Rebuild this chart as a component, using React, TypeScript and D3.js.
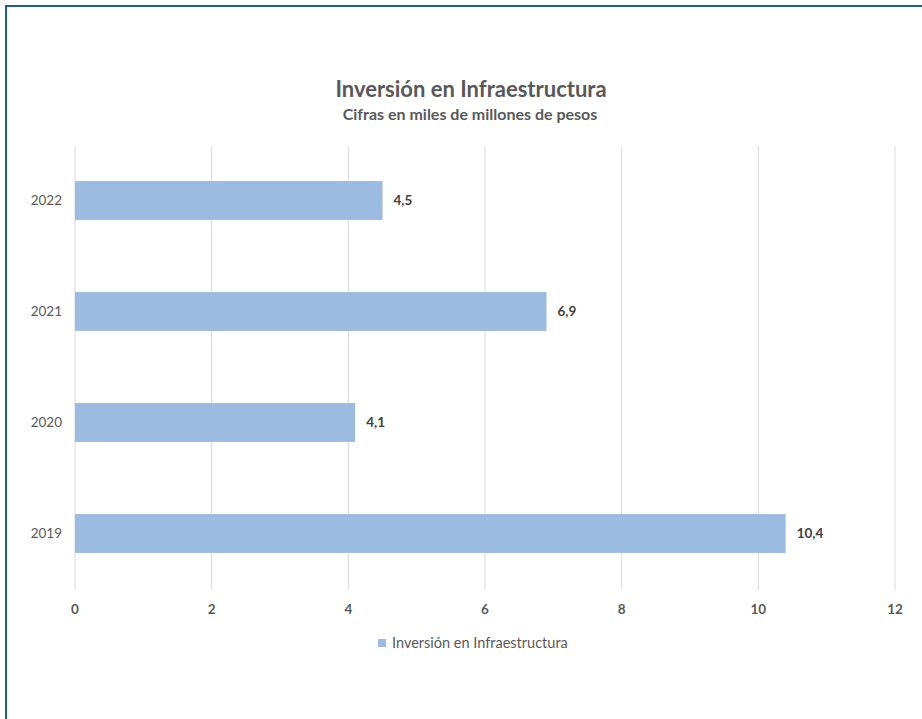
import React from "react";
import * as d3 from "d3";

const categories = ["2022", "2021", "2020", "2019"];
const values = [4.5, 6.9, 4.1, 10.4];
const xTicks = [0, 2, 4, 6, 8, 10, 12];
const seriesName = "Inversión en Infraestructura";
const title = "Inversión en Infraestructura";
const subtitle = "Cifras en miles de millones de pesos";

export default function App() {
  const W = 922, H = 719;
  const x = d3.scaleLinear().domain([0, 12]).range([75, 895]);
  const y = d3.scaleBand().domain(categories).range([145, 589]).paddingInner(0.65).paddingOuter(0.325);
  const fmt = (v: number) => v.toFixed(1).replace(".", ",");
  const font = "Lato, 'Open Sans', sans-serif";
  return (
    <svg width={W} height={H} style={{ position: "absolute", left: 0, top: 0 }} fontFamily={font}>
      <rect x={0} y={0} width={W} height={H} fill="#fff" />
      <rect x={6} y={6} width={W + 20} height={H + 20} fill="none" stroke="#1f5b98" strokeWidth={2} />
      <text x={471} y={97} textAnchor="middle" fontSize={22} fontWeight="bold" fill="#595959">{title}</text>
      <text x={470} y={120} textAnchor="middle" fontSize={16} fontWeight="bold" fill="#595959">{subtitle}</text>
      {xTicks.map((t) => (
        <line key={t} x1={x(t)} x2={x(t)} y1={146} y2={590} stroke="#d9d9d9" strokeWidth={1} />
      ))}
      {categories.map((c, i) => (
        <g key={c}>
          <rect x={x(0)} y={y(c)} width={x(values[i]) - x(0)} height={y.bandwidth()} fill="#9bbbe0" />
          <text x={x(values[i]) + 11} y={(y(c) as number) + y.bandwidth() / 2} dy="0.35em" fontSize={13.5} fontWeight="bold" fill="#404040">{fmt(values[i])}</text>
          <text x={62} y={(y(c) as number) + y.bandwidth() / 2} dy="0.35em" textAnchor="end" fontSize={13.5} fill="#595959">{c}</text>
        </g>
      ))}
      {xTicks.map((t) => (
        <text key={"l" + t} x={x(t)} y={609} dy="0.35em" textAnchor="middle" fontSize={13.5} fontWeight="bold" fill="#595959">{t}</text>
      ))}
      <rect x={378} y={639} width={8} height={8} fill="#9bbbe0" />
      <text x={392} y={643} dy="0.35em" fontSize={14.5} fill="#595959">{seriesName}</text>
    </svg>
  );
}
